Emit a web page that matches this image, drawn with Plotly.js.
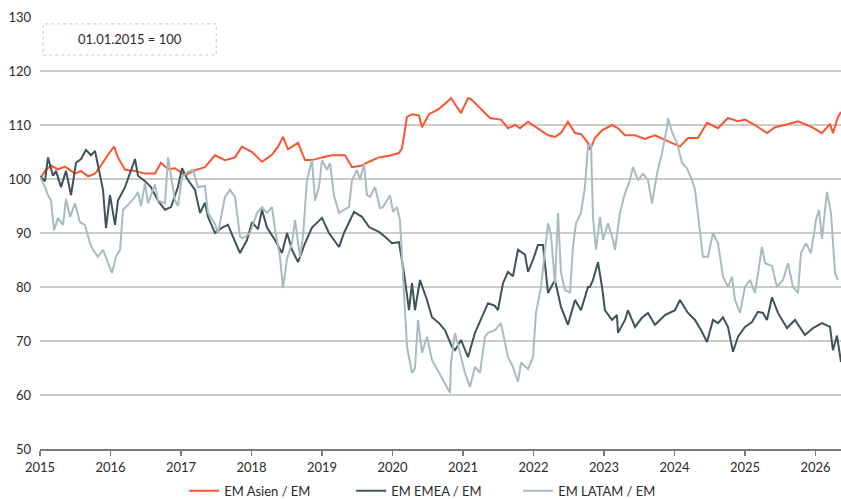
<!DOCTYPE html>
<html>
<head>
<meta charset="utf-8">
<script src="https://cdn.plot.ly/plotly-3.0.1.min.js"></script>
<style>
html,body{margin:0;padding:0;background:#fff;}
#chart{width:841px;height:499px;}
</style>
</head>
<body>
<div id="chart"></div>
<script>
// Decimal years and index values (01.01.2015 = 100)
const asienX = [2015.000,2015.071,2015.156,2015.255,2015.355,2015.440,2015.496,2015.582,2015.681,2015.780,2015.865,2015.965,2016.050,2016.106,2016.206,2016.348,2016.489,2016.631,2016.716,2016.816,2016.915,2017.057,2017.199,2017.340,2017.482,2017.624,2017.766,2017.865,2018.007,2018.149,2018.291,2018.376,2018.447,2018.518,2018.660,2018.759,2018.858,2019.000,2019.142,2019.326,2019.426,2019.567,2019.667,2019.809,2019.950,2020.092,2020.135,2020.206,2020.277,2020.376,2020.418,2020.518,2020.660,2020.801,2020.830,2020.972,2021.071,2021.113,2021.255,2021.383,2021.539,2021.638,2021.738,2021.809,2021.922,2022.064,2022.206,2022.305,2022.390,2022.489,2022.589,2022.674,2022.773,2022.801,2022.872,2022.972,2023.113,2023.199,2023.298,2023.440,2023.582,2023.723,2023.865,2024.007,2024.078,2024.191,2024.333,2024.461,2024.617,2024.759,2024.901,2025.000,2025.142,2025.312,2025.426,2025.567,2025.752,2025.950,2026.092,2026.206,2026.248,2026.319,2026.362];
const asienY = [100,101.5,102.5,101.8,102.3,101.5,101,101.5,100.5,101,102.5,104.5,106,104,101.7,101.5,101,101,103,101.8,102,100.7,101.6,102.2,104.4,103.5,104,106,105,103.2,104.5,106,107.8,105.5,106.7,103.5,103.5,104,104.4,104.4,102.2,102.5,103.2,104,104.3,104.8,105.7,111.5,112,111.8,109.6,112,113,114.6,115,112.2,115,114.8,113,111.3,111,109.4,110,109.4,110.6,109.4,108.1,107.8,108.5,110.6,108.5,108.3,106.7,105.4,107.6,109,110,109.4,108.1,108.1,107.4,108.1,107.2,106.3,106,107.6,107.6,110.4,109.4,111.3,110.7,111,110,108.5,109.6,110,110.7,109.6,108.5,110.2,108.5,111.5,112.4];

const emeaX = [2015.000,2015.071,2015.113,2015.184,2015.227,2015.298,2015.369,2015.440,2015.511,2015.582,2015.652,2015.723,2015.780,2015.851,2015.894,2015.936,2015.993,2016.064,2016.106,2016.206,2016.277,2016.348,2016.390,2016.489,2016.574,2016.674,2016.773,2016.858,2016.957,2017.014,2017.099,2017.199,2017.270,2017.340,2017.383,2017.482,2017.582,2017.667,2017.738,2017.837,2017.936,2018.007,2018.092,2018.149,2018.220,2018.333,2018.433,2018.504,2018.574,2018.660,2018.759,2018.858,2019.000,2019.099,2019.241,2019.312,2019.454,2019.567,2019.667,2019.809,2019.894,2019.993,2020.092,2020.163,2020.234,2020.277,2020.319,2020.390,2020.489,2020.560,2020.660,2020.745,2020.844,2020.887,2020.972,2021.071,2021.170,2021.255,2021.355,2021.454,2021.496,2021.567,2021.638,2021.709,2021.780,2021.879,2021.922,2021.993,2022.064,2022.135,2022.206,2022.305,2022.390,2022.489,2022.589,2022.674,2022.773,2022.801,2022.844,2022.915,2022.972,2023.014,2023.113,2023.184,2023.199,2023.298,2023.340,2023.440,2023.539,2023.624,2023.723,2023.865,2024.007,2024.078,2024.191,2024.291,2024.390,2024.461,2024.546,2024.617,2024.688,2024.759,2024.830,2024.901,2025.000,2025.099,2025.184,2025.255,2025.312,2025.383,2025.468,2025.596,2025.709,2025.851,2025.965,2026.092,2026.206,2026.248,2026.305,2026.362];
const emeaY = [100.5,99.6,104,100.6,101.5,98.5,101.5,97,103,103.7,105.4,104.4,105.2,101,98,90.9,97,91.5,96,98.5,101.3,103.7,100.6,99.6,98.5,96,94.3,94.8,98.5,102,99.8,98,93.7,95.6,93,90,91,91.5,89.3,86.3,88.7,92,90.7,94.3,91,88.7,86.3,90,86.9,84.6,88.1,91,92.8,90,87.4,90,93.9,93,91.1,90.2,89.3,88.1,88.3,82.6,75.7,80.7,75.7,81.3,77.6,74.4,73.3,72,68.9,68.3,70.2,67,71.5,73.9,77,76.5,75.7,80.7,82.8,82,86.9,86,82.8,85,87.8,87.8,78.9,81.3,76.3,73,77.6,75.7,80,80,81.3,84.6,80,75.7,73.9,74.8,71.5,73.9,75.7,72.6,74.3,75.2,73,74.8,75.7,77.6,75.2,73.9,71.7,69.8,73.9,73.3,74.4,72.6,68,70.8,72.6,73.5,75.4,75.2,73.9,78.1,75.2,72.4,73.9,71.1,72.4,73.3,72.6,68.3,71,66.1,62.8];

const latamX = [2015.000,2015.071,2015.113,2015.156,2015.199,2015.255,2015.326,2015.369,2015.426,2015.496,2015.567,2015.638,2015.709,2015.752,2015.823,2015.894,2015.965,2016.021,2016.078,2016.135,2016.177,2016.248,2016.348,2016.390,2016.433,2016.489,2016.532,2016.631,2016.674,2016.773,2016.816,2016.858,2016.915,2016.957,2017.014,2017.099,2017.170,2017.241,2017.340,2017.383,2017.482,2017.525,2017.624,2017.695,2017.766,2017.837,2017.879,2017.979,2018.078,2018.149,2018.220,2018.291,2018.333,2018.404,2018.447,2018.504,2018.574,2018.617,2018.688,2018.730,2018.787,2018.858,2018.901,2018.957,2019.000,2019.071,2019.113,2019.170,2019.241,2019.312,2019.383,2019.426,2019.496,2019.539,2019.596,2019.638,2019.681,2019.752,2019.823,2019.865,2019.965,2020.007,2020.064,2020.106,2020.149,2020.177,2020.206,2020.234,2020.277,2020.319,2020.362,2020.418,2020.489,2020.560,2020.660,2020.745,2020.816,2020.830,2020.887,2020.957,2021.028,2021.099,2021.170,2021.241,2021.312,2021.355,2021.454,2021.539,2021.638,2021.709,2021.780,2021.823,2021.922,2021.993,2022.035,2022.106,2022.163,2022.206,2022.248,2022.305,2022.348,2022.390,2022.447,2022.518,2022.560,2022.603,2022.674,2022.730,2022.773,2022.816,2022.844,2022.887,2022.943,2022.986,2023.057,2023.128,2023.156,2023.227,2023.298,2023.369,2023.411,2023.482,2023.553,2023.624,2023.681,2023.752,2023.823,2023.894,2023.908,2023.965,2024.035,2024.106,2024.177,2024.248,2024.291,2024.333,2024.362,2024.404,2024.475,2024.546,2024.617,2024.688,2024.759,2024.816,2024.858,2024.929,2025.000,2025.071,2025.142,2025.241,2025.284,2025.383,2025.454,2025.539,2025.610,2025.681,2025.752,2025.794,2025.865,2025.936,2026.007,2026.050,2026.092,2026.163,2026.220,2026.277,2026.319,2026.362];
const latamY = [100.4,98.5,97,96,90.5,92.8,91.5,96.3,93,95.5,92,91.5,88.1,86.9,85.6,86.9,84.4,82.6,85.6,86.9,94.3,95.2,96.7,97.6,95,99.2,95.5,99,96,95.5,104,100.4,96,95,100.4,101.3,101.7,98.5,98.7,93.7,91.7,90,96.7,98,96.7,89.3,89,90,93.7,94.8,93.7,94.8,90.7,85.6,79.8,85.2,88.1,92.4,85.6,89.3,99.8,103.5,96,98.5,103.5,101.7,103,97,93.7,94.3,94.8,99.8,101.7,99.8,102.8,97,96.7,98.5,94.6,94.8,97,93.9,94.8,92.4,81.3,75.7,68.9,67,64.1,65,73.9,67.8,70.8,66.5,64.1,62.2,60.4,66,71.5,67.8,64.1,61.5,65.2,64.1,70.8,71.5,72,73.3,67,65.2,62.4,66,64.8,67,75.2,80,87.4,91.8,89.6,80.7,93.7,82.6,79.4,79,87.4,91.8,93.7,98.5,106,106.5,93,86.9,93,88.7,91.8,88.7,86.9,93.7,97.4,99.8,102.2,99.8,101,99.8,95.5,101,104.8,109.6,111.3,108.7,106.7,103,102,99.8,98,93.7,90,85.6,85.6,90,88.1,81.9,80,81.9,77.6,75.2,80,81.3,78.9,87.4,84.4,83.9,80,81.3,84.4,80,78.9,86.3,88.1,86.3,92.4,94.3,88.9,97.6,93.7,82.6,81.3];

const seriesNames = ['EM Asien / EM', 'EM EMEA / EM', 'EM LATAM / EM'];
const yearTicks = [2015,2016,2017,2018,2019,2020,2021,2022,2023,2024,2025,2026];
const noteText = '01.01.2015 = 100';

const colors = ['#fb5530', '#3e535a', '#a8bcc0'];
const font = 'Lato, "Open Sans", sans-serif';

const traces = [
  {x: asienX, y: asienY, name: seriesNames[0]},
  {x: emeaX, y: emeaY, name: seriesNames[1]},
  {x: latamX, y: latamY, name: seriesNames[2]}
].map((t, i) => Object.assign(t, {
  type: 'scatter', mode: 'lines',
  line: {color: colors[i], width: 2},
  hoverinfo: 'skip'
}));

const layout = {
  width: 841, height: 499,
  margin: {l: 40, r: 0, t: 17, b: 50, autoexpand: false},
  paper_bgcolor: '#fff', plot_bgcolor: '#fff',
  font: {family: font, size: 13, color: '#2b2b2b'},
  showlegend: true,
  legend: {
    orientation: 'h', x: 0.18, xanchor: 'left', y: -0.097, yanchor: 'middle',
    font: {family: font, size: 13, color: '#2b2b2b'},
    entrywidth: 122, entrywidthmode: 'pixels', itemwidth: 30,
    bgcolor: 'rgba(0,0,0,0)'
  },
  xaxis: {
    type: 'linear', range: [2015, 2026.362], tickvals: yearTicks, tickformat: 'd',
    showgrid: false, zeroline: false,
    showline: true, linecolor: '#7b7b7b', linewidth: 2,
    ticks: 'outside', ticklen: 5, tickcolor: '#7b7b7b', tickwidth: 1.5,
    tickfont: {family: font, size: 13, color: '#2b2b2b'},
    fixedrange: true
  },
  yaxis: {
    range: [50, 130], dtick: 10, tick0: 50,
    showgrid: true, gridcolor: '#cfccc7', gridwidth: 1.5,
    zeroline: false, showline: false, ticks: '',
    ticklabelstandoff: 8,
    tickfont: {family: font, size: 13, color: '#2b2b2b'},
    fixedrange: true
  },
  shapes: [{
    type: 'rect', xref: 'paper', yref: 'paper',
    x0: 0.004, x1: 0.22, y0: 0.912, y1: 0.984,
    line: {color: '#c8c8c8', width: 1, dash: 'dot'},
    fillcolor: 'rgba(255,255,255,1)', layer: 'above'
  }],
  annotations: [{
    xref: 'paper', yref: 'paper', x: 0.112, y: 0.948,
    xanchor: 'center', yanchor: 'middle',
    text: noteText, showarrow: false,
    font: {family: font, size: 13, color: '#2b2b2b'}
  }]
};

Plotly.newPlot('chart', traces, layout, {displayModeBar: false, staticPlot: true});
</script>
</body>
</html>
